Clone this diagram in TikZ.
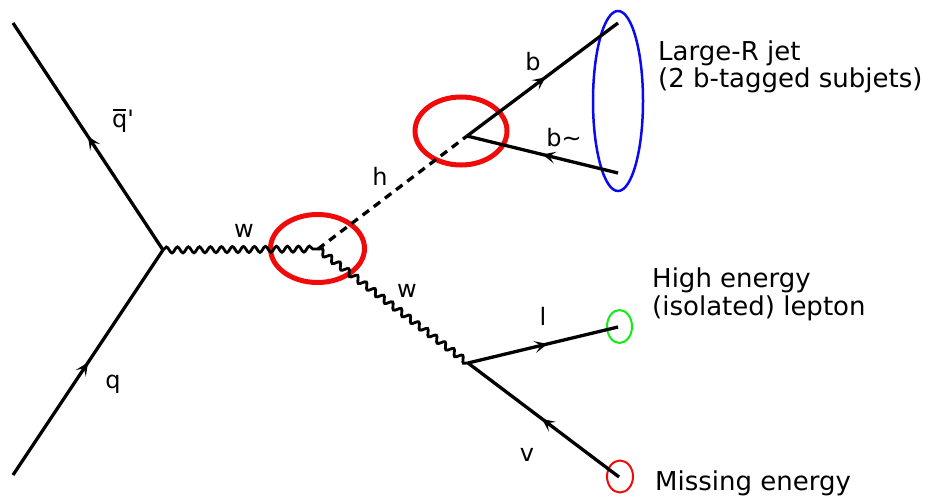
\documentclass[tikz,border=0pt]{standalone}
\usepackage{fontspec}
\setmainfont{DejaVu Sans}
\usetikzlibrary{decorations.pathmorphing,decorations.markings,arrows.meta,shapes.geometric}
\definecolor{hred}{RGB}{240,10,10}
\definecolor{jblue}{RGB}{10,10,240}
\definecolor{lgreen}{RGB}{20,235,20}
\begin{document}
\begin{tikzpicture}[x=1pt,y=-1pt,
  fermion/.style={line width=3.3pt, postaction={decorate},
    decoration={markings, mark=at position #1 with {\arrow{Stealth[length=13pt,width=12pt,inset=6pt]}}}},
  fermion/.default=0.5,
  boson/.style={line width=2.8pt, decorate, decoration={snake, segment length=11pt, amplitude=3pt}},
  scalar/.style={line width=3.3pt, dash pattern=on 8pt off 6pt},
  bigring/.style={ellipse, draw=hred, line width=5pt, inner sep=0pt},
  ring/.style={ellipse, inner sep=0pt},
  lbl/.style={font=\fontsize{24}{28}\selectfont, inner sep=0pt},
  txt/.style={font=\fontsize{26}{27.5}\selectfont, inner sep=0pt, align=left, anchor=base west}
]
\useasboundingbox (0,0) rectangle (933,497);
% vertices and ends
\coordinate (qbar) at (13,23);
\coordinate (q) at (13,475);
\coordinate (v1) at (163,250);
\coordinate (v2) at (318,249);
\coordinate (v3) at (467,136);
\coordinate (v4) at (468,363);
\coordinate (bend) at (618,23);
\coordinate (bbarend) at (618,173);
\coordinate (lend) at (618,327);
\coordinate (nuend) at (619,477);
% rings
\node[bigring, minimum width=94pt, minimum height=68pt] (ring1) at (317.5,248.5) {};
\node[bigring, minimum width=92pt, minimum height=68pt] (ring2) at (461,131) {};
\node[ring, draw=jblue, line width=2.5pt, minimum width=50pt, minimum height=180pt] (jetring) at (618,101) {};
\node[ring, draw=lgreen, line width=2pt, minimum width=25pt, minimum height=33pt] (lring) at (619.5,326.5) {};
\node[ring, draw=hred, line width=2pt, minimum width=26pt, minimum height=32pt] (mring) at (620,476.5) {};
% lines
\draw[fermion] (v1) -- (qbar);
\draw[fermion] (q) -- (v1);
\draw[boson] (v1) -- (v2);
\draw[boson] (v2) -- (v4);
\draw[scalar] (v2) -- (v3);
\draw[fermion=0.52] (v3) -- (bend);
\draw[fermion] (bbarend) -- (v3);
\draw[fermion=0.53] (v4) -- (lend);
\draw[fermion=0.51] (nuend) -- (v4);
% labels
\node[lbl] (lqbar) at (123,121) {\rlap{\hspace{1.3pt}\rule[16.5pt]{12.5pt}{1.6pt}}q\textquotesingle};
\node[lbl] (lq) at (113,384) {q};
\node[lbl] (lw1) at (244,231) {w};
\node[lbl] (lh) at (380,176) {h};
\node[lbl] (lw2) at (407,291) {w};
\node[lbl] (lb) at (533,62) {b};
\node[lbl] (lbbar) at (564,138) {b\textasciitilde};
\node[lbl] (ll) at (543,316) {l};
\node[lbl] (lnu) at (527,455) {v};
% texts
\node[txt] (jettxt) at (658,88) {Large-R jet\\(2 b-tagged subjets)};
\node[txt] (leptxt) at (652,315) {High energy\\(isolated) lepton};
\node[txt] (misstxt) at (655,490) {Missing energy};
\end{tikzpicture}
\end{document}
